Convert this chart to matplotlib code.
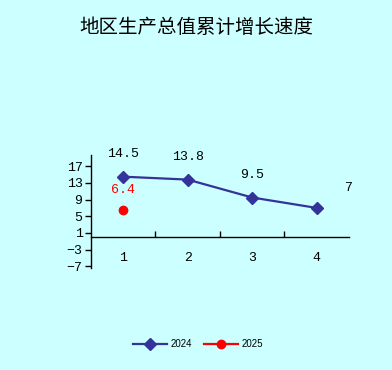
import matplotlib.pyplot as plt
import numpy as np

# data
categories = ["1", "2", "3", "4"]
growth_2024 = [14.5, 13.8, 9.5, 7]
growth_2025 = [6.4]
y_ticks = [17, 13, 9, 5, 1, -3, -7]
title = "地区生产总值累计增长速度"

BG = "#CCFFFF"
BLUE = "#333399"
RED = "#FF0000"
NUM_FONT = ["Liberation Mono", "DejaVu Sans Mono"]

plt.rcParams["font.family"] = ["Noto Sans CJK SC", "DejaVu Sans"]

fig = plt.figure(figsize=(3.92, 3.70), dpi=100, facecolor=BG)
ax = fig.add_axes([0.232, 0.276, 0.658, 0.305])
ax.set_facecolor(BG)

x = np.arange(1, len(categories) + 1)
ax.plot(x, growth_2024, color=BLUE, linewidth=1.6, marker="D",
        markersize=6, markerfacecolor=BLUE, markeredgecolor=BLUE,
        label="2024", zorder=3)
ax.plot(x[:len(growth_2025)], growth_2025, color=RED, linewidth=1.6,
        marker="o", markersize=6, label="2025", zorder=3)

# data labels
for i, v in enumerate(growth_2024):
    off = (23, 14) if i == len(growth_2024) - 1 else (0, 16)
    ax.annotate(f"{v:g}", (x[i], v), xytext=off,
                textcoords="offset points", ha="center", va="center",
                fontsize=9.5, family=NUM_FONT)
for i, v in enumerate(growth_2025):
    ax.annotate(f"{v:g}", (x[i], v), xytext=(0, 15),
                textcoords="offset points", ha="center", va="center",
                fontsize=9.5, family=NUM_FONT, color=RED)

ax.set_xlim(0.5, 4.5)
ax.set_ylim(-7.4, 19.7)

ax.spines["top"].set_visible(False)
ax.spines["right"].set_visible(False)
ax.spines["bottom"].set_position(("data", 0))
ax.spines["left"].set_linewidth(1.0)
ax.spines["bottom"].set_linewidth(1.0)

ax.set_yticks(y_ticks)
ax.set_yticklabels([str(t).replace("-", "\u2212") for t in y_ticks],
                   family=NUM_FONT, fontsize=9.5)
ax.tick_params(axis="y", direction="out", length=4, width=1, pad=2)

# category boundary ticks on the x axis, labels at category centres
ax.set_xticks(x[:-1] + 0.5)
ax.set_xticklabels([])
ax.tick_params(axis="x", direction="in", length=4, width=1)
for xi, lab in zip(x, categories):
    ax.text(xi, -5.0, lab, ha="center", va="center", fontsize=9.5,
            family=NUM_FONT)

fig.text(0.5, 0.927, title, ha="center", va="center", fontsize=14)

fig.legend(loc="center", bbox_to_anchor=(0.505, 0.07), ncol=2,
           frameon=False, handlelength=3.5, columnspacing=1.2,
           handletextpad=0.4, prop={"family": "Liberation Sans", "size": 7})

fig.savefig("out.png", dpi=100, facecolor=BG)
